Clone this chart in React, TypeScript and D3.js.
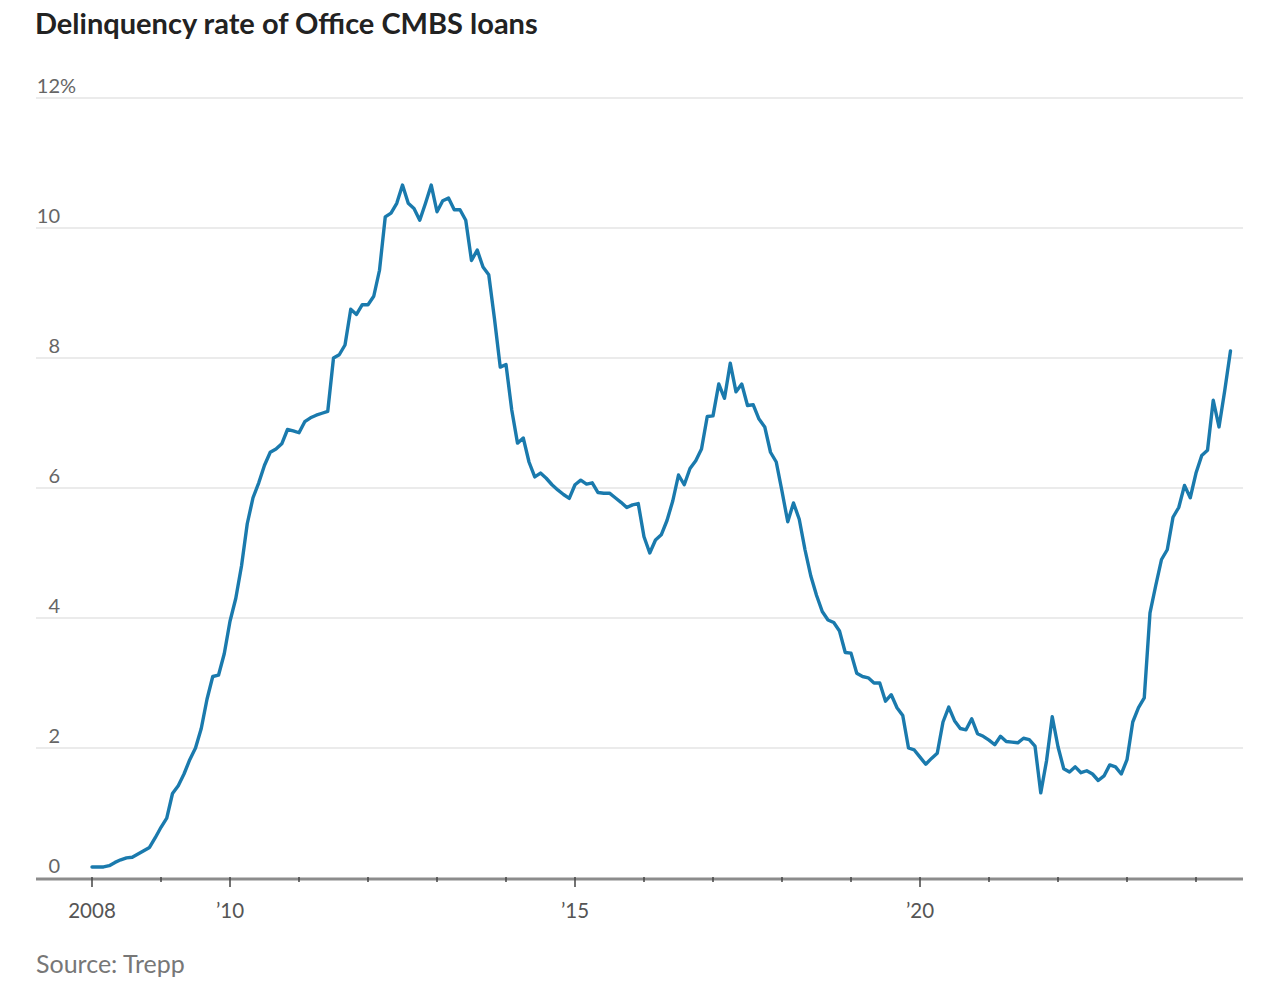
import * as d3 from "d3";

// monthly delinquency rate (%), starting January 2008
const startYear = 2008;
const rates2008 = [0.17, 0.17, 0.17, 0.19, 0.24, 0.28, 0.31, 0.32, 0.37, 0.42, 0.47, 0.62];
const rates2009 = [0.78, 0.92, 1.3, 1.42, 1.6, 1.82, 2.0, 2.3, 2.75, 3.1, 3.12, 3.45];
const rates2010 = [3.95, 4.3, 4.8, 5.45, 5.85, 6.08, 6.35, 6.55, 6.6, 6.68, 6.9, 6.88];
const rates2011 = [6.85, 7.02, 7.08, 7.12, 7.15, 7.18, 8.0, 8.05, 8.2, 8.75, 8.67, 8.82];
const rates2012 = [8.82, 8.95, 9.35, 10.17, 10.23, 10.38, 10.66, 10.38, 10.3, 10.12, 10.38, 10.66];
const rates2013 = [10.25, 10.42, 10.46, 10.28, 10.28, 10.12, 9.5, 9.66, 9.4, 9.28, 8.6, 7.86];
const rates2014 = [7.9, 7.2, 6.69, 6.77, 6.4, 6.17, 6.23, 6.15, 6.05, 5.97, 5.9, 5.84];
const rates2015 = [6.05, 6.12, 6.06, 6.08, 5.93, 5.92, 5.92, 5.85, 5.78, 5.7, 5.74, 5.76];
const rates2016 = [5.25, 5.0, 5.2, 5.28, 5.5, 5.8, 6.2, 6.05, 6.3, 6.42, 6.6, 7.1];
const rates2017 = [7.11, 7.6, 7.38, 7.92, 7.48, 7.6, 7.27, 7.28, 7.06, 6.94, 6.55, 6.4];
const rates2018 = [5.95, 5.48, 5.77, 5.52, 5.05, 4.65, 4.35, 4.1, 3.97, 3.93, 3.8, 3.47];
const rates2019 = [3.46, 3.15, 3.1, 3.08, 3.0, 3.0, 2.72, 2.82, 2.62, 2.5, 2.0, 1.97];
const rates2020 = [1.86, 1.75, 1.84, 1.92, 2.4, 2.63, 2.42, 2.3, 2.28, 2.45, 2.22, 2.18];
const rates2021 = [2.12, 2.05, 2.18, 2.1, 2.09, 2.08, 2.15, 2.13, 2.03, 1.31, 1.8, 2.48];
const rates2022 = [2.02, 1.68, 1.63, 1.71, 1.62, 1.65, 1.6, 1.5, 1.57, 1.74, 1.71, 1.6];
const rates2023 = [1.82, 2.4, 2.62, 2.77, 4.08, 4.5, 4.9, 5.05, 5.55, 5.7, 6.04, 5.85];
const rates2024 = [6.23, 6.5, 6.58, 7.35, 6.94, 7.5, 8.11];

const yTicks = [0, 2, 4, 6, 8, 10, 12];
const xTickYears = d3.range(2008, 2025);
const xLabelYears = [2008, 2010, 2015, 2020];
const xLabels = ["2008", "\u201910", "\u201915", "\u201920"];

const title = "Delinquency rate of Office CMBS loans";
const source = "Source: Trepp";

const width = 1284;
const height = 990;
const axisLeft = 36;
const axisRight = 1243;
const plotTop = 98;
const plotBottom = 878;
const labelRight = 60;
const font = "Lato, 'Open Sans', sans-serif";

export default function App() {
  const rates = [
    ...rates2008, ...rates2009, ...rates2010, ...rates2011, ...rates2012, ...rates2013,
    ...rates2014, ...rates2015, ...rates2016, ...rates2017, ...rates2018, ...rates2019,
    ...rates2020, ...rates2021, ...rates2022, ...rates2023, ...rates2024,
  ];
  const points = rates.map((value, i) => ({ t: startYear + i / 12, value }));

  const xScale = d3.scaleLinear().domain([2008, 2024]).range([92, 1196]);
  const yScale = d3.scaleLinear().domain([0, 12]).range([plotBottom, plotTop]);

  const line = d3
    .line<(typeof points)[number]>()
    .x((d) => xScale(d.t))
    .y((d) => yScale(d.value))(points);

  return (
    <div style={{ position: "absolute", left: 0, top: 0 }}>
      <svg width={width} height={height} style={{ display: "block", background: "#fff" }} fontFamily={font}>
        <text x={35} y={34} fontSize={29} fontWeight={700} fill="#222">{title}</text>

        {yTicks.filter((t) => t > 0).map((tick) => (
          <line key={`g-${tick}`} x1={axisLeft} x2={axisRight} y1={yScale(tick)} y2={yScale(tick)} stroke="#ebebeb" strokeWidth={2} />
        ))}

        {yTicks.map((tick) => (
          <g key={`y-${tick}`}>
            <text x={labelRight} y={yScale(tick) - 5} textAnchor="end" fontSize={20} fill="#666">{tick}</text>
            {tick === 12 ? <text x={labelRight} y={yScale(tick) - 5} fontSize={20} fill="#666">%</text> : null}
          </g>
        ))}

        {line ? <path d={line} fill="none" stroke="#1a7aad" strokeWidth={3.4} strokeLinejoin="round" strokeLinecap="round" /> : null}

        <line x1={axisLeft} x2={axisRight} y1={plotBottom + 1} y2={plotBottom + 1} stroke="#8c8c8c" strokeWidth={3} />
        {xTickYears.map((year) => {
          const major = xLabelYears.includes(year);
          return (
            <line key={`t-${year}`} x1={xScale(year)} x2={xScale(year)} y1={plotBottom - 1} y2={plotBottom + (major ? 9 : 4)} stroke="#444" strokeWidth={1.5} />
          );
        })}
        {xLabelYears.map((year, i) => (
          <text key={`xl-${year}`} x={xScale(year)} y={918} textAnchor="middle" fontSize={20.5} fill="#555">{xLabels[i]}</text>
        ))}

        <text x={36} y={973} fontSize={25} fill="#777">{source}</text>
      </svg>
    </div>
  );
}
